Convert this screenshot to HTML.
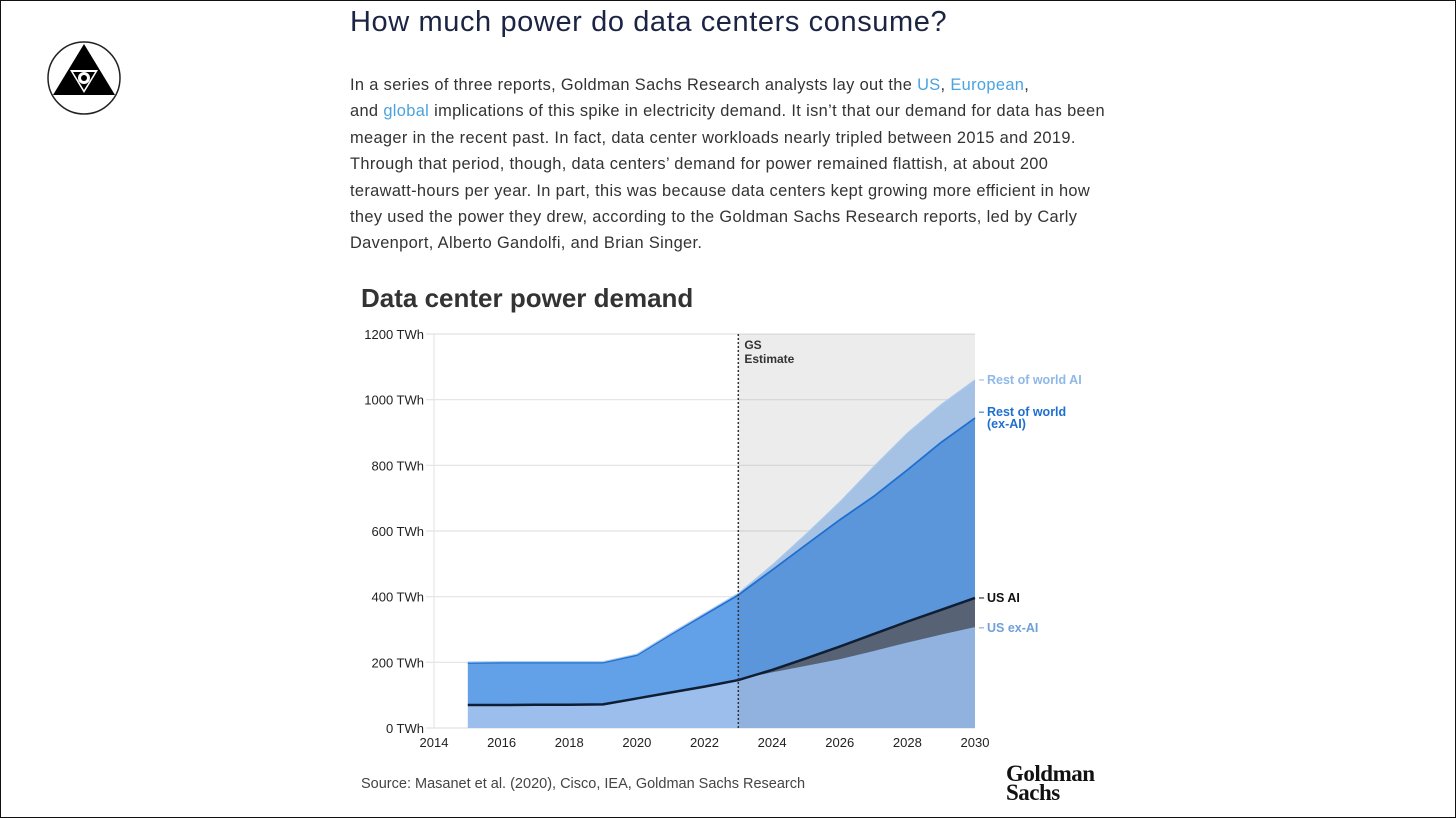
<!DOCTYPE html>
<html><head><meta charset="utf-8"><style>
html,body{margin:0;padding:0;background:#fff}
body{width:1456px;height:818px;position:relative;overflow:hidden;font-family:"Liberation Sans",sans-serif;}
.frame{position:absolute;left:0;top:0;width:1454px;height:816px;border:1px solid #111;box-sizing:content-box}
h1{position:absolute;left:350px;top:6px;margin:0;font-weight:normal;font-size:29px;color:#1c2444;letter-spacing:0.6px;white-space:nowrap}
p{position:absolute;left:350px;top:72px;width:800px;margin:0;font-size:16.4px;line-height:26.4px;color:#333;letter-spacing:0.35px;white-space:nowrap}
a{color:#4aa3df;text-decoration:none}
.ct{position:absolute;left:361px;top:283px;font-size:26px;font-weight:bold;color:#333}
.src{position:absolute;left:361px;top:776px;font-size:14.5px;color:#444}
.gs{position:absolute;left:1006px;top:764px;font-family:"Liberation Serif",serif;font-weight:bold;font-size:23px;line-height:19px;color:#111;letter-spacing:-0.5px}
svg{position:absolute;left:0;top:0}
</style></head><body>
<div class="frame"></div>
<svg width="1456" height="818">
<g>
<circle cx="84" cy="78" r="36" fill="#fff" stroke="#222" stroke-width="1.5"/>
<polygon points="84,44 115,95 53,95" fill="#000"/>
<polygon points="70,70 98,70 84,93" fill="#fff"/>
<polygon points="73,72 95,72 84,90" fill="#000"/>
<circle cx="84" cy="78" r="6" fill="#fff"/><circle cx="84" cy="78" r="3" fill="#000"/>
</g>
<g id="plot"></g>
</svg>
<h1>How much power do data centers consume?</h1>
<p>In a series of three reports, Goldman Sachs Research analysts lay out the <a href="#">US</a>, <a href="#">European</a>,<br>and <a href="#">global</a> implications of this spike in electricity demand. It isn’t that our demand for data has been<br>meager in the recent past. In fact, data center workloads nearly tripled between 2015 and 2019.<br>Through that period, though, data centers’ demand for power remained flattish, at about 200<br>terawatt-hours per year. In part, this was because data centers kept growing more efficient in how<br>they used the power they drew, according to the Goldman Sachs Research reports, led by Carly<br>Davenport, Alberto Gandolfi, and Brian Singer.</p>
<div class="ct">Data center power demand</div>
<div class="src">Source: Masanet et al. (2020), Cisco, IEA, Goldman Sachs Research</div>
<div class="gs">Goldman<br>Sachs</div>
<script>
const years=[2015,2016,2017,2018,2019,2020,2021,2022,2023,2024,2025,2026,2027,2028,2029,2030];
const usExAI=[70,70,71,71,72,90,108,126,146,167,187,207,232,258,282,305];
const usAI=[0,0,0,0,0,0,0,0,0,10,25,41,54,66,78,91];
const rowExAI=[128,129,128,128,127,132,177,219,259,304,346,386,419,462,510,548];
const rowAI=[3,3,3,3,3,3,3,4,5,15,32,54,90,112,115,116];
const yTicks=[0,200,400,600,800,1000,1200];
const xTicks=[2014,2016,2018,2020,2022,2024,2026,2028,2030];
const estYear=2023;
const NS='http://www.w3.org/2000/svg';
const g=document.getElementById('plot');
const X=v=>434+(v-2014)*(975-434)/16;
const Y=v=>728-v*(728-334)/1200;
function mk(t,a){const e=document.createElementNS(NS,t);for(const k in a)e.setAttribute(k,a[k]);g.appendChild(e);return e;}
let r=mk('rect',{x:X(estYear),y:Y(1200),width:X(2030)-X(estYear),height:Y(0)-Y(1200),fill:'#fbfbfb'});

yTicks.forEach(t=>{
 let l=mk('line',{x1:X(2014)-8,x2:X(2030),y1:Y(t),y2:Y(t),stroke:'#e2e2e2','stroke-width':1.2});
 
 let tx=mk('text',{x:424,y:Y(t)+5,'text-anchor':'end','font-size':13,fill:'#222','font-family':'Liberation Sans'});
 tx.textContent=t+' TWh';
 
});
mk('line',{x1:X(2014),x2:X(2014),y1:Y(1200),y2:Y(0),stroke:'#e2e2e2'});
xTicks.forEach(t=>{
 let tx=mk('text',{x:X(t),y:747,'text-anchor':'middle','font-size':13,fill:'#222','font-family':'Liberation Sans'});
 tx.textContent=t;
 
});
const series=[usExAI,usAI,rowExAI,rowAI];
const colors=['#9bbeec','#5d6a7c','#62a0e8','#b0cff3'];
const names=['area-us-ex-ai','area-us-ai','area-row-ex-ai','area-row-ai'];
let base=years.map(()=>0);
const tops=[];
series.forEach((s,i)=>{
 const top=base.map((b,j)=>b+s[j]);
 let d='M'+years.map((y,j)=>X(y)+','+Y(top[j])).join('L');
 for(let j=years.length-1;j>=0;j--)d+='L'+X(years[j])+','+Y(base[j]);
 let p=mk('path',{d:d+'Z',fill:colors[i]});
 
 tops.push(top);base=top;
});
mk('rect',{x:X(estYear),y:Y(1200),width:X(2030)-X(estYear),height:Y(0)-Y(1200),fill:'#000',opacity:0.06});
const lineCols=['#8fb3e3','#0f1e33','#1f6fd0','#a8c8ee'];
const lw=[1.5,2.5,1.8,1.2];
tops.forEach((t,i)=>{
 let l=mk('polyline',{points:years.map((y,j)=>X(y)+','+Y(t[j])).join(' '),fill:'none',stroke:lineCols[i],'stroke-width':lw[i]});
 
});
let v=mk('line',{x1:X(estYear),x2:X(estYear),y1:Y(1200),y2:Y(0),stroke:'#333','stroke-width':1.5,'stroke-dasharray':'2,2'});

[['GS',349],['Estimate',363]].forEach(a=>{let t=mk('text',{x:X(estYear)+6,y:a[1],'font-size':12,'font-weight':'bold',fill:'#333'});t.textContent=a[0];});
const last=years.length-1;
const labs=[[['US ex-AI'],tops[0][last],'#6fa0d8'],[['US AI'],tops[1][last],'#111'],[['Rest of world','(ex-AI)'],tops[2][last]+18,'#1f6fd0'],[['Rest of world AI'],tops[3][last],'#8fb8e8']];
labs.forEach(a=>{
 const y=Y(a[1]);
 mk('line',{x1:X(2030)+4,x2:X(2030)+9,y1:y,y2:y,stroke:a[2]});
 a[0].forEach((s,k)=>{let t=mk('text',{x:X(2030)+12,y:y+4+k*12,'font-size':12.5,'font-weight':'bold',fill:a[2]});t.textContent=s;});
});
</script>
</body></html>
